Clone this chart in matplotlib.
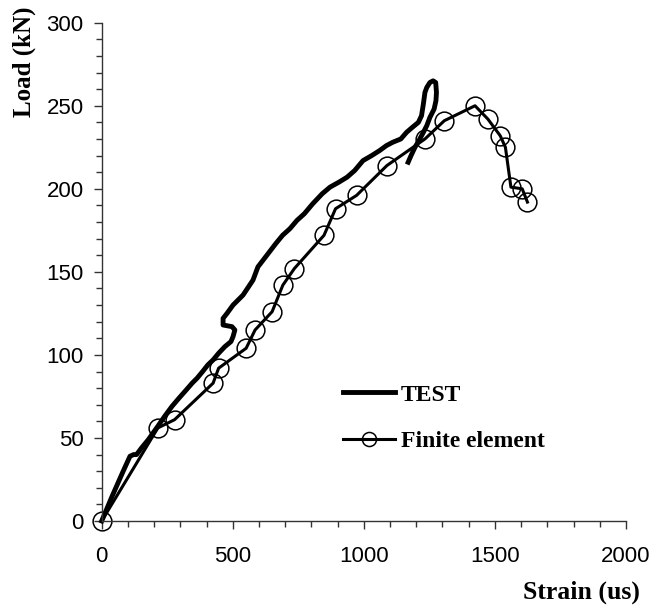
import matplotlib
matplotlib.use("Agg")
import matplotlib.pyplot as plt
from matplotlib import font_manager
from matplotlib.ticker import MultipleLocator

# Test curve (strain in microstrain, load in kN)
test_strain = [0, 40, 82, 108, 122, 133, 152, 178, 214, 240, 268, 295, 323, 345,
               364, 385, 405, 425, 446, 470, 493, 501, 508, 497, 463, 463, 478,
               501, 539, 577, 596, 630, 664, 690, 718, 745, 773, 805, 841, 871,
               905, 936, 965, 997, 1030, 1060, 1086, 1110, 1141, 1163, 1185,
               1208, 1220, 1227, 1233, 1240, 1252, 1264, 1274, 1277, 1275, 1268,
               1252, 1240, 1227, 1210, 1195, 1180, 1169]
test_load = [0, 15, 30, 39, 40, 40, 44, 49, 57, 63, 69, 74, 79, 83,
             86, 90, 94, 97, 101, 105, 108, 111, 115, 117, 118, 122, 125,
             130, 136, 145, 153, 160, 167, 172, 176, 181, 185, 191, 197, 201,
             204, 207, 211, 217, 220, 223, 226, 228, 230, 234, 237,
             240, 244, 251, 258, 261, 264, 265, 264, 258, 253, 248,
             243, 238, 234, 229, 225, 220, 216]

# Finite element curve
fe_strain = [0, 214, 278, 425, 446, 551, 585, 650, 691, 735, 848, 892, 972,
             1088, 1233, 1307, 1424, 1473, 1520, 1540, 1561, 1604, 1624]
fe_load = [0, 56, 61, 83, 92, 104, 115, 126, 142, 152, 172, 188, 196,
           214, 230, 241, 250, 242, 232, 225, 201, 200, 192]

xticks = [0, 500, 1000, 1500, 2000]
yticks = [0, 50, 100, 150, 200, 250, 300]

names = {f.name for f in font_manager.fontManager.ttflist}
if "Liberation Sans Narrow" in names:
    tick_font, tick_size = "Liberation Sans Narrow", 19
else:
    tick_font, tick_size = "Liberation Sans", 16
serif = "Liberation Serif"

fig = plt.figure(figsize=(6.7, 6.07), dpi=100)
ax = fig.add_axes([101.7 / 670, 1 - 521 / 607, (626 - 101.7) / 670, (521 - 22.7) / 607])

ax.plot(test_strain, test_load, color="black", linewidth=3.5,
        solid_joinstyle="round", label="TEST")
ax.plot(fe_strain, fe_load, color="black", linewidth=2.2, marker="o",
        markersize=13.5, markerfacecolor="none", markeredgewidth=1.1,
        label="Finite element")

ax.set_xlim(0, 2000)
ax.set_ylim(0, 300)
ax.set_xticks(xticks)
ax.set_yticks(yticks)
ax.xaxis.set_minor_locator(MultipleLocator(100))
ax.yaxis.set_minor_locator(MultipleLocator(10))

for side in ["top", "right"]:
    ax.spines[side].set_visible(False)
for side in ["left", "bottom"]:
    ax.spines[side].set_color("#333333")
    ax.spines[side].set_linewidth(1.0)

ax.tick_params(axis="both", which="major", direction="out", length=6,
               width=1, color="#333333")
ax.tick_params(axis="both", which="minor", direction="out", length=4.5,
               width=1, color="#333333")
ax.tick_params(axis="x", which="major", pad=12)
ax.tick_params(axis="y", which="major", pad=7)
for lab in ax.get_xticklabels() + ax.get_yticklabels():
    lab.set_fontfamily(tick_font)
    lab.set_fontsize(tick_size)
for line in ax.get_lines():
    line.set_clip_on(False)

fig.text(24 / 670, 1 - 62 / 607, "Load (kN)", rotation=90, ha="center",
         va="center", family=serif, fontweight="bold", fontsize=18)
fig.text(640 / 670, 1 - 592 / 607, "Strain (us)", ha="right", va="center",
         family=serif, fontweight="bold", fontsize=18.5)

leg = ax.legend(loc="upper left", bbox_to_anchor=(343 / 670, 1 - 384 / 607),
                bbox_transform=fig.transFigure, frameon=False,
                prop={"family": serif, "weight": "bold", "size": 17},
                handlelength=2.2, handletextpad=0.25, labelspacing=1.05,
                borderpad=0, borderaxespad=0, markerscale=0.75)

fig.savefig("out.png", dpi=100)
